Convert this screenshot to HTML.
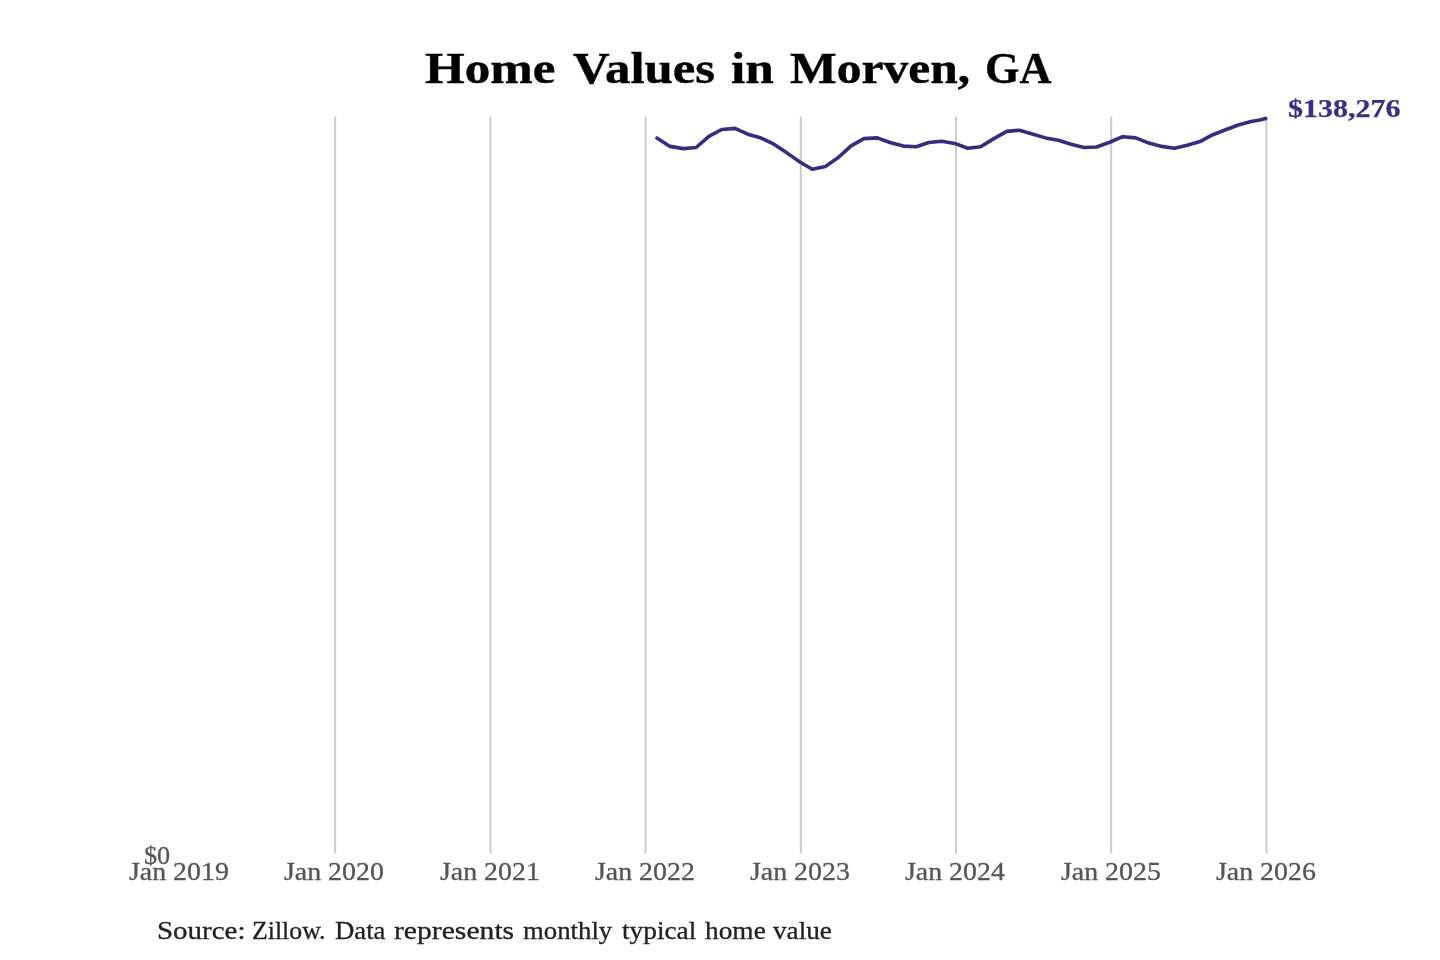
<!DOCTYPE html>
<html lang="en">
<head>
<meta charset="utf-8">
<title>Home Values in Morven, GA</title>
<style>
  html, body { margin: 0; padding: 0; background: #ffffff; }
  body { width: 1440px; height: 960px; position: relative; overflow: hidden;
         font-family: "Liberation Serif", serif; }
  #chart { position: absolute; left: 0; top: 0; width: 1440px; height: 960px; }
  .t { position: absolute; white-space: nowrap; line-height: 1; margin: 0; padding: 0;
       transform-origin: 0 0; display: inline-block; will-change: transform;
       font-family: "Liberation Serif", serif; }
  .wrap { margin: 0; padding: 0; font-size: inherit; font-weight: inherit; line-height: 0; height: 0; }
  .title { font-weight: bold; color: #000000; font-size: 44px; -webkit-text-stroke: 0.4px #000000; }
  .tick  { color: #555555; font-size: 24.2px; -webkit-text-stroke: 0.3px #555555; }
  .src   { color: #222222; font-size: 24.2px; -webkit-text-stroke: 0.3px #222222; }
  .val   { color: #393084; font-weight: bold; font-size: 26px; -webkit-text-stroke: 0.25px #393084; }
</style>
</head>
<body>
<svg id="chart" width="1440" height="960" viewBox="0 0 1440 960">
  <g stroke="#cacaca" stroke-width="2" fill="none">
    <line x1="335.2" y1="116.5" x2="335.2" y2="853.5"/>
    <line x1="490.4" y1="116.5" x2="490.4" y2="853.5"/>
    <line x1="645.6" y1="116.5" x2="645.6" y2="853.5"/>
    <line x1="800.8" y1="116.5" x2="800.8" y2="853.5"/>
    <line x1="956.0" y1="116.5" x2="956.0" y2="853.5"/>
    <line x1="1111.2" y1="116.5" x2="1111.2" y2="853.5"/>
    <line x1="1266.4" y1="116.5" x2="1266.4" y2="853.5"/>
  </g>
  <polyline fill="none" stroke="#362d7e" stroke-width="3.6" stroke-linejoin="round" stroke-linecap="round"
    points="656.9,138.1 670,146.4 683.3,148.6 696.1,147.5 708.9,136.4 721.7,129.5 735,128.4 747.8,134.2 761.1,138.1 773.9,144.2 787.2,153.1 800.3,162.3 812.2,169.2 825.6,166.4 838.3,157.5 851.1,145.9 863.9,138.6 877.2,137.9 890,142.5 903.3,146.1 916.1,146.7 928.9,142.5 941.7,141.2 954.7,143.4 967.8,148.3 980.6,146.7 993.9,138.6 1006.7,131.4 1019.4,130.3 1032.2,133.9 1045.6,137.9 1058.3,140.3 1071.1,144.2 1083.9,147.5 1096.7,147 1110.3,142 1122.8,136.7 1135.6,137.9 1148.9,143.1 1161.7,146.4 1174.4,148.3 1187.2,145.3 1200,141.6 1212.8,134.7 1225.6,129.7 1238.3,125 1251.1,121.5 1260,119.9 1265.6,118.5"/>
</svg>

<h1 class="wrap">
<span class="t title" id="t0" style="left:425.00px; top:46.7px; transform:scaleX(1.1605);">Home</span>
<span class="t title" id="t1" style="left:572.70px; top:46.7px; transform:scaleX(1.1537);">Values</span>
<span class="t title" id="t2" style="left:730.65px; top:46.7px; transform:scaleX(1.1691);">in</span>
<span class="t title" id="t3" style="left:790.00px; top:46.7px; transform:scaleX(1.1260);">Morven,</span>
<span class="t title" id="t4" style="left:985.36px; top:46.7px; transform:scaleX(1.0068);">GA</span>
</h1>
<span class="t val" id="val" style="left:1288.3px; top:95.8px; transform:scaleX(1.155);">$138,276</span>

<span class="t tick" id="y0" style="left:144.1px; top:843.2px; font-size:26.2px; transform:scaleX(0.99);">$0</span>
<span class="t tick" id="x0" style="left:129.0px; top:859.6px; transform:scaleX(1.152);">Jan 2019</span>
<span class="t tick" id="x1" style="left:284.3px; top:859.6px; transform:scaleX(1.152);">Jan 2020</span>
<span class="t tick" id="x2" style="left:439.5px; top:859.6px; transform:scaleX(1.152);">Jan 2021</span>
<span class="t tick" id="x3" style="left:594.8px; top:859.6px; transform:scaleX(1.152);">Jan 2022</span>
<span class="t tick" id="x4" style="left:750.1px; top:859.6px; transform:scaleX(1.152);">Jan 2023</span>
<span class="t tick" id="x5" style="left:905.4px; top:859.6px; transform:scaleX(1.152);">Jan 2024</span>
<span class="t tick" id="x6" style="left:1060.6px; top:859.6px; transform:scaleX(1.152);">Jan 2025</span>
<span class="t tick" id="x7" style="left:1215.9px; top:859.6px; transform:scaleX(1.152);">Jan 2026</span>

<p class="wrap">
<span class="t src" id="s0" style="left:157.27px; top:919.4px; transform:scaleX(1.1980);">Source:</span>
<span class="t src" id="s1" style="left:252.09px; top:919.4px; transform:scaleX(1.0661);">Zillow.</span>
<span class="t src" id="s2" style="left:334.71px; top:919.4px; transform:scaleX(1.1050);">Data</span>
<span class="t src" id="s3" style="left:394.26px; top:919.4px; transform:scaleX(1.2254);">represents</span>
<span class="t src" id="s4" style="left:522.71px; top:919.4px; transform:scaleX(1.1065);">monthly</span>
<span class="t src" id="s5" style="left:621.66px; top:919.4px; transform:scaleX(1.1294);">typical</span>
<span class="t src" id="s6" style="left:704.71px; top:919.4px; transform:scaleX(1.1313);">home</span>
<span class="t src" id="s7" style="left:773.37px; top:919.4px; transform:scaleX(1.1254);">value</span>
</p>
</body>
</html>
